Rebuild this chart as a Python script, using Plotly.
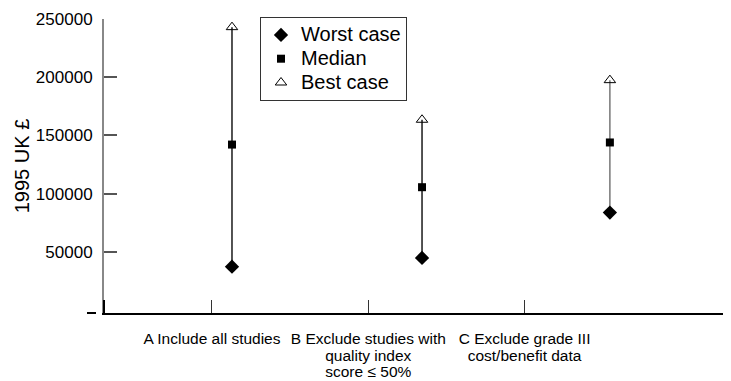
import plotly.graph_objects as go

categories = ["A Include all studies",
              "B Exclude studies with<br>quality index<br>score ≤ 50%",
              "C Exclude grade III<br>cost/benefit data"]
tick_pos = [1, 2, 3]
marker_pos = [1.128, 2.344, 3.546]
worst = [37400, 44900, 83800]
median = [142200, 105600, 144000]
best = [243000, 163500, 197500]
line_colors = ["#1a1a1a", "#1a1a1a", "#777777"]
y_ticks = [50000, 100000, 150000, 200000, 250000]
y_ticktext = ["50000", "100000", "150000", "200000", "250000"]
series_names = ["Worst case", "Median", "Best case"]

FONT = "Liberation Sans, Arial, sans-serif"


def big(text, px):
    return "<br>".join(f'<span style="font-size:{px}px">{ln}</span>'
                       for ln in text.split("<br>"))


fig = go.Figure()

for i in range(len(categories)):
    fig.add_trace(go.Scatter(
        x=[marker_pos[i], marker_pos[i]], y=[worst[i], best[i]],
        mode="lines", line=dict(color=line_colors[i], width=1.5),
        showlegend=False, hoverinfo="skip", cliponaxis=False))

fig.add_trace(go.Scatter(
    x=marker_pos, y=worst, mode="markers", name=big(series_names[0], 20),
    marker=dict(symbol="diamond", size=11, color="black"), cliponaxis=False))
fig.add_trace(go.Scatter(
    x=marker_pos, y=median, mode="markers", name=big(series_names[1], 20),
    marker=dict(symbol="square", size=8, color="black"), cliponaxis=False))
fig.add_trace(go.Scatter(
    x=marker_pos, y=best, mode="markers", name=big(series_names[2], 20),
    marker=dict(symbol="triangle-up-open", size=10, color="black",
                line=dict(width=1, color="black")), cliponaxis=False))

fig.update_layout(
    width=723, height=373,
    margin=dict(l=96, r=0, t=11, b=68, autoexpand=False),
    paper_bgcolor="white", plot_bgcolor="white",
    font=dict(family=FONT, color="black"),
    showlegend=True,
    legend=dict(x=(260 - 104) / 627, y=(313 - 17) / 294, xanchor="left", yanchor="top",
                bordercolor="#333", borderwidth=1, bgcolor="white",
                font=dict(size=16, family=FONT), tracegroupgap=0,
                itemsizing="trace"),
    xaxis=dict(range=[0.309, 4.321], tickmode="array", tickvals=tick_pos,
               ticktext=[big(c, 15.5) for c in categories],
               ticks="inside", ticklen=13, tickwidth=1,
               tickcolor="#333", showline=True, linecolor="black", linewidth=2,
               showgrid=False, zeroline=False, automargin=False,
               ticklabelstandoff=13,
               tickfont=dict(size=13, family=FONT)),
    yaxis=dict(range=[-2400, 250000], tickmode="array", tickvals=y_ticks,
               ticktext=y_ticktext,
               ticks="inside", ticklen=13, tickwidth=1.5, tickcolor="#555",
               showline=True, linecolor="#888", linewidth=2,
               showgrid=False, zeroline=False, ticklabelstandoff=6,
               automargin=False,
               tickfont=dict(size=17, family=FONT),
               title=dict(text="1995 UK £", font=dict(size=20, family=FONT),
                          standoff=1)),
    shapes=[
        dict(type="line", xref="paper", yref="paper",
             x0=(87 - 104) / 627, x1=(96 - 104) / 627, y0=0, y1=0,
             line=dict(color="black", width=2)),
        dict(type="line", xref="paper", yref="paper",
             x0=0, x1=0, y0=0, y1=13 / 294,
             line=dict(color="black", width=2)),
    ],
)

fig.write_html("out.html")
